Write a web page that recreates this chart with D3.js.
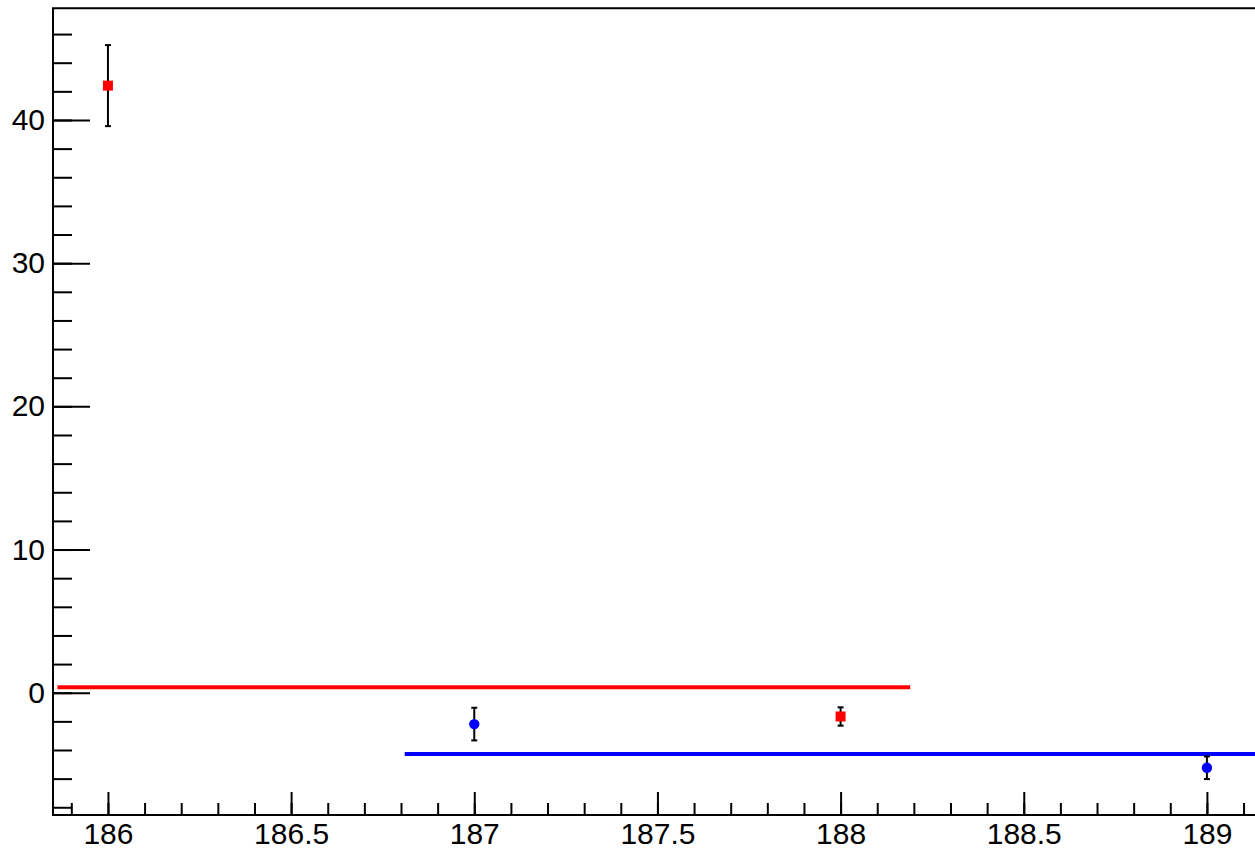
<!DOCTYPE html>
<html>
<head>
<meta charset="utf-8">
<script src="https://cdn.jsdelivr.net/npm/d3@7"></script>
<style>
  html, body { margin: 0; padding: 0; background: #fff; }
  svg { display: block; }
  text { font-family: "Liberation Sans", Arial, sans-serif; }
</style>
</head>
<body>
<svg id="chart" width="1255" height="852"></svg>
<script>
// ---- data ----
const redX = [186, 188];
const redY = [42.4, -1.66];
const redErr = [2.83, 0.64];
const blueX = [187, 189];
const blueY = [-2.19, -5.24];
const blueErr = [1.14, 0.79];
const redLineX = [185.862, 188.19];
const redLineY = 0.38;
const blueLineX = [186.81, 189.14];
const blueLineY = -4.28;
const xDomain = [185.85, 189.134];
const yDomain = [-8.54, 47.8];
const xMajorTicks = [186, 186.5, 187, 187.5, 188, 188.5, 189];
const xMinorTicks = d3.range(185.9, 189.14, 0.1).map(v => +v.toFixed(1));
const yMajorTicks = [0, 10, 20, 30, 40];
const yMinorTicks = d3.range(-8, 47, 2);

// ---- layout ----
const svg = d3.select("#chart");
const mLeft = 53, mRight = 1256, mTop = 8.3, mBottom = 815;
const x = d3.scaleLinear().domain(xDomain).range([mLeft, mRight]);
const y = d3.scaleLinear().domain(yDomain).range([mBottom, mTop]);
const fontSize = 30;

// lines (fit)
svg.append("line")
  .attr("x1", x(redLineX[0])).attr("x2", x(redLineX[1]))
  .attr("y1", y(redLineY)).attr("y2", y(redLineY))
  .attr("stroke", "#ff0000").attr("stroke-width", 4);
svg.append("line")
  .attr("x1", x(blueLineX[0])).attr("x2", x(blueLineX[1]))
  .attr("y1", y(blueLineY)).attr("y2", y(blueLineY))
  .attr("stroke", "#0000ff").attr("stroke-width", 4);

// error bars
function errorBars(xs, ys, es) {
  const g = svg.append("g").attr("stroke", "#000").attr("stroke-width", 2);
  xs.forEach((xv, i) => {
    const cx = x(xv), y1 = y(ys[i] + es[i]), y2 = y(ys[i] - es[i]);
    g.append("line").attr("x1", cx).attr("x2", cx).attr("y1", y1).attr("y2", y2);
    g.append("line").attr("x1", cx - 3).attr("x2", cx + 3).attr("y1", y1).attr("y2", y1);
    g.append("line").attr("x1", cx - 3).attr("x2", cx + 3).attr("y1", y2).attr("y2", y2);
  });
}
errorBars(redX, redY, redErr);
errorBars(blueX, blueY, blueErr);

// markers
svg.append("g").selectAll("rect").data(redX).join("rect")
  .attr("x", (d) => x(d) - 5)
  .attr("y", (d, i) => y(redY[i]) - 5)
  .attr("width", 10).attr("height", 10)
  .attr("fill", "#ff0000");
svg.append("g").selectAll("circle").data(blueX).join("circle")
  .attr("cx", (d) => x(d))
  .attr("cy", (d, i) => y(blueY[i]))
  .attr("r", 5.2)
  .attr("fill", "#0000ff");

// axes
const xMinor = svg.append("g").attr("transform", `translate(0,${mBottom})`)
  .call(d3.axisBottom(x).tickValues(xMinorTicks).tickSize(-12).tickFormat(""));
const xMajor = svg.append("g").attr("transform", `translate(0,${mBottom})`)
  .call(d3.axisBottom(x).tickValues(xMajorTicks).tickSize(-23).tickPadding(8)
    .tickFormat(d3.format("")));
const yMinor = svg.append("g").attr("transform", `translate(${mLeft},0)`)
  .call(d3.axisLeft(y).tickValues(yMinorTicks).tickSize(-19).tickFormat(""));
const yMajor = svg.append("g").attr("transform", `translate(${mLeft},0)`)
  .call(d3.axisLeft(y).tickValues(yMajorTicks).tickSize(-37).tickPadding(8)
    .tickFormat(d3.format("")));

[xMinor, xMajor, yMinor, yMajor].forEach(g => {
  g.select(".domain").remove();
  g.selectAll(".tick line").attr("stroke", "#000").attr("stroke-width", 2);
  g.selectAll(".tick text").attr("fill", "#000")
    .style("font-size", fontSize + "px")
    .style("font-family", '"Liberation Sans", Arial, sans-serif');
});

// frame (left, bottom, top)
svg.append("path")
  .attr("d", `M${mRight},${mTop}H${mLeft}V${mBottom}H${mRight}`)
  .attr("fill", "none").attr("stroke", "#000").attr("stroke-width", 2);
</script>
</body>
</html>
